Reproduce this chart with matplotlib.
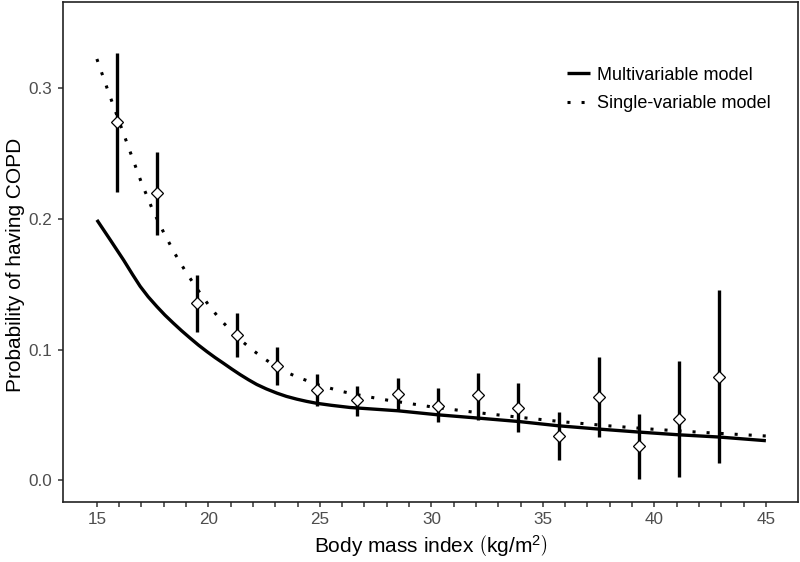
import matplotlib
matplotlib.use("Agg")
import matplotlib.pyplot as plt
from matplotlib.ticker import FixedLocator

plt.rcParams['font.family'] = ['Liberation Sans', 'DejaVu Sans']
plt.rcParams['mathtext.fontset'] = 'custom'
plt.rcParams['mathtext.rm'] = 'Liberation Sans'
plt.rcParams['mathtext.it'] = 'Liberation Sans:italic'

# Observed binned probabilities with 95% CI
bmi_bin = [15.89, 17.69, 19.48, 21.29, 23.08, 24.89, 26.68, 28.49, 30.29,
           32.09, 33.90, 35.70, 37.51, 39.30, 41.11, 42.90]
prob_obs = [0.274, 0.2197, 0.1361, 0.1111, 0.0877, 0.0693, 0.0617, 0.0660,
            0.0573, 0.0655, 0.0553, 0.0337, 0.0637, 0.0260, 0.0472, 0.0795]
ci_low = [0.221, 0.1878, 0.1139, 0.0943, 0.0732, 0.0571, 0.0495, 0.0533,
          0.0446, 0.0464, 0.0367, 0.0153, 0.0332, 0.0013, 0.0026, 0.0130]
ci_high = [0.3268, 0.2515, 0.1573, 0.1280, 0.1017, 0.0813, 0.0724, 0.0783,
           0.0706, 0.0821, 0.0745, 0.0523, 0.0948, 0.0505, 0.0917, 0.1458]

# Multivariable model curve
multi_x = [15.0, 15.6, 16.2, 16.6, 16.94, 17.3, 17.69, 18.05, 18.43, 18.8, 19.18,
           19.55, 19.93, 20.3, 20.67, 21.05, 21.42, 21.8, 22.17, 22.6, 23.07,
           23.5, 23.96, 24.4, 24.86, 25.5, 26.35, 28.49, 30.29, 32.09, 33.9,
           35.7, 37.5, 39.3, 41.1, 42.9, 45.0]
multi_y = [0.1993, 0.184, 0.1685, 0.1575, 0.1485, 0.1405, 0.133, 0.1265, 0.1203,
           0.1145, 0.1089, 0.1036, 0.0986, 0.094, 0.0897, 0.0852, 0.0810, 0.0770,
           0.0734, 0.0700, 0.0668, 0.0643, 0.0622, 0.0605, 0.0590, 0.0575,
           0.0558, 0.0533, 0.0502, 0.0477, 0.0451, 0.0418, 0.0393, 0.0370,
           0.0349, 0.0332, 0.0304]

# Single-variable model curve
single_x = [15.0, 15.5, 16.0, 16.5, 17.0, 17.5, 18.0, 18.5, 19.0, 19.5, 20.0,
            20.5, 21.0, 21.5, 22.0, 22.5, 23.0, 23.5, 24.0, 25.0, 26.0, 27.0,
            28.0, 30.0, 32.0, 34.0, 36.0, 38.0, 40.0, 42.0, 45.0]
single_y = [0.3224, 0.298, 0.2745, 0.251, 0.2277, 0.207, 0.1895, 0.1734, 0.1592,
            0.1464, 0.1344, 0.1237, 0.1147, 0.1066, 0.0995, 0.0932, 0.0875,
            0.0828, 0.079, 0.0727, 0.068, 0.0645, 0.0615, 0.0563, 0.052, 0.0482,
            0.0447, 0.0417, 0.0391, 0.0369, 0.034]

legend_labels = ["Multivariable model", "Single-variable model"]
x_ticks = [15, 20, 25, 30, 35, 40, 45]
y_ticks = [0.0, 0.1, 0.2, 0.3]

fig = plt.figure(figsize=(8, 5.62), dpi=100)
ax = fig.add_axes([63/800, 1-502/562, (798-63)/800, (502-2)/562])

ax.plot(multi_x, multi_y, color='black', lw=2.4, solid_capstyle='butt',
        solid_joinstyle='round', label=legend_labels[0], zorder=2)
ax.plot(single_x, single_y, color='black', lw=2.2, linestyle=(0, (1, 3.6)),
        dash_capstyle='butt', label=legend_labels[1], zorder=2)

yerr = [[p - l for p, l in zip(prob_obs, ci_low)],
        [h - p for p, h in zip(prob_obs, ci_high)]]
ax.errorbar(bmi_bin, prob_obs, yerr=yerr, fmt='none', ecolor='black',
            elinewidth=2.4, capsize=0, zorder=3)
ax.plot(bmi_bin, prob_obs, linestyle='none', marker='D', markersize=6.3,
        markerfacecolor='white', markeredgecolor='black', markeredgewidth=0.9,
        zorder=4)

ax.set_xlim(13.48, 46.44)
ax.set_ylim(-0.0165, 0.366)
ax.set_xticks(x_ticks)
ax.set_xticklabels([str(t) for t in x_ticks])
ax.xaxis.set_minor_locator(FixedLocator([v for v in range(15, 46) if v % 5 != 0]))
ax.set_yticks(y_ticks)
ax.set_yticklabels([f"{t:.1f}" for t in y_ticks])

ax.tick_params(axis='both', which='both', direction='out', length=3.5, width=1.1,
               color='#333333', labelsize=12.3, labelcolor='#4D4D4D', pad=4)
for s in ax.spines.values():
    s.set_linewidth(1.2)
    s.set_color('#222222')

ax.set_xlabel(r"Body mass index $\left(\mathrm{kg/m^2}\right)$", fontsize=15,
              color='black', labelpad=4)
ax.set_ylabel("Probability of having COPD", fontsize=15, color='black')
ax.yaxis.set_label_coords(-(63 - 25) / 735, 0.474)

leg = ax.legend(loc='upper left', bbox_to_anchor=(0.676, 0.885), frameon=False,
                fontsize=13, handlelength=1.25, handletextpad=0.4,
                labelspacing=0.62, borderaxespad=0)

fig.savefig("out.png", dpi=100)
